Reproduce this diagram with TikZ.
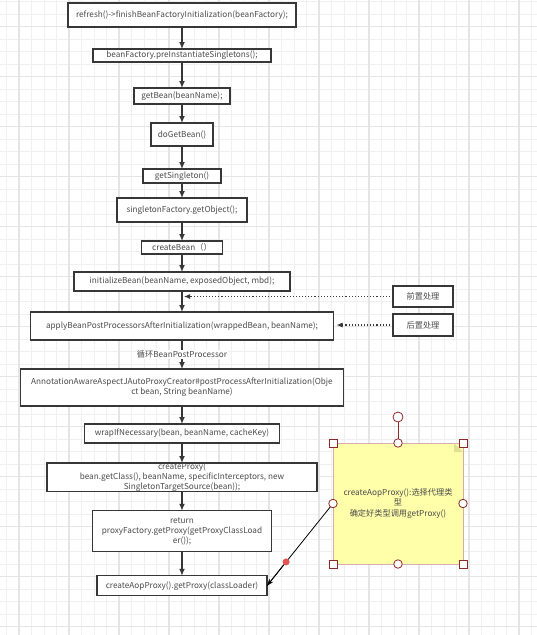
\documentclass[tikz,border=0pt]{standalone}
\usepackage{fontspec}
\setmainfont{Noto Sans CJK SC}
\usetikzlibrary{positioning, arrows.meta, calc}
\definecolor{LineGray}{RGB}{55,55,55}
\definecolor{TextGray}{RGB}{75,75,75}
\definecolor{GridMinor}{RGB}{240,240,240}
\definecolor{GridMajor}{RGB}{229,229,229}
\definecolor{NoteYellow}{RGB}{255,255,170}
\definecolor{NoteFold}{RGB}{225,225,150}
\definecolor{NoteBorder}{RGB}{214,172,172}
\definecolor{HandleRed}{RGB}{140,40,40}
\definecolor{DotRed}{RGB}{225,85,85}

\begin{document}
\begin{tikzpicture}[
    x=1pt, y=-1pt,
    call/.style={rectangle, draw=LineGray, line width=1.1pt, fill=white, inner sep=0pt, outer sep=0pt,
                 align=center, font=\fontsize{8.2}{10}\selectfont, text=TextGray},
    flow/.style={-{Latex[length=7pt,width=6pt]}, line width=1.6pt, color=LineGray},
    hook/.style={-{Latex[length=6pt,width=5pt]}, dotted, line width=1.1pt, color=LineGray},
    note/.style={rectangle, draw=NoteBorder, fill=NoteYellow, line width=0.9pt, inner sep=0pt, outer sep=0pt,
                 align=center, font=\fontsize{8.2}{10.5}\selectfont, text=TextGray},
    handlebox/.style={rectangle, draw=HandleRed, fill=white, line width=0.8pt, minimum size=8pt, inner sep=0pt},
    handledot/.style={circle, draw=HandleRed, fill=white, line width=0.8pt, minimum size=8.5pt, inner sep=0pt}
]
\useasboundingbox (0,0) rectangle (537,635);
\fill[white] (0,0) rectangle (537,635);

% Grid
\foreach \k in {0,...,42} \draw[GridMinor, line width=0.8pt] (6.5+12.5*\k,0) -- (6.5+12.5*\k,635);
\foreach \k in {0,...,50} \draw[GridMinor, line width=0.8pt] (0,1.5+12.5*\k) -- (537,1.5+12.5*\k);
\foreach \k in {0,...,10} \draw[GridMajor, line width=1.5pt] (19+50*\k,0) -- (19+50*\k,635);
\foreach \k in {0,...,12} \draw[GridMajor, line width=1.5pt] (0,26.5+50*\k) -- (537,26.5+50*\k);

% Call chain
\node[call, minimum width=228pt, minimum height=24pt] (refresh) at (182,15) {refresh()->finishBeanFactoryInitialization(beanFactory);};
\node[call, minimum width=178pt, minimum height=13pt, below=22pt of refresh] (preinst) {beanFactory.preInstantiateSingletons();};
\node[call, minimum width=96pt, minimum height=16pt, below=26pt of preinst] (getbean) {getBean(beanName);};
\node[call, minimum width=62pt, minimum height=23pt, below=19pt of getbean] (dogetbean) {doGetBean()};
\node[call, minimum width=78pt, minimum height=14pt, below=23pt of dogetbean] (singleton) {getSingleton()};
\node[call, minimum width=130pt, minimum height=24pt, below=15pt of singleton] (getobject) {singletonFactory.getObject();};
\node[call, minimum width=81pt, minimum height=13pt, below=19pt of getobject] (createbean) {createBean（）};
\node[call, minimum width=216pt, minimum height=19pt, below=18pt of createbean] (init) {initializeBean(beanName, exposedObject, mbd);};
\node[call, minimum width=303pt, minimum height=28pt, below=21pt of init] (apply) {applyBeanPostProcessorsAfterInitialization(wrappedBean, beanName);};
\node[call, minimum width=323pt, minimum height=37pt, below=29pt of apply] (creator) {AnnotationAwareAspectJAutoProxyCreator\#postProcessAfterInitialization(Obje\\ct bean, String beanName)};
\node[call, minimum width=195pt, minimum height=19pt, below=18pt of creator] (wrap) {wrapIfNecessary(bean, beanName, cacheKey)};
\node[call, minimum width=270pt, minimum height=28pt, below=20pt of wrap] (createproxy) {createProxy(\\bean.getClass(), beanName, specificInterceptors, new\\SingletonTargetSource(bean));};
\node[call, minimum width=179pt, minimum height=41pt, below=19pt of createproxy] (getproxy) {return\\proxyFactory.getProxy(getProxyClassLoad\\er());};
\node[call, minimum width=170pt, minimum height=20pt, below=24pt of getproxy] (aopproxy) {createAopProxy().getProxy(classLoader)};

% Pre / post processing
\node[call, minimum width=60pt, minimum height=21pt] (pre) at (423,296.5) {前置处理};
\node[call, minimum width=60pt, minimum height=22pt, below=7pt of pre] (post) {后置处理};

% Arrows
\draw[flow] (refresh) -- (preinst);
\draw[flow] (preinst) -- (getbean);
\draw[flow] (getbean) -- (dogetbean);
\draw[flow] (dogetbean) -- (singleton);
\draw[flow] (singleton) -- (getobject);
\draw[flow] (getobject) -- (createbean);
\draw[flow] (createbean) -- (init);
\draw[flow] (init) -- (apply);
\draw[flow] (apply) -- node[fill=white, inner sep=1pt, font=\fontsize{8.2}{10}\selectfont, text=TextGray] (loop) {循环BeanPostProcessor} (creator);
\draw[flow] (creator) -- (wrap);
\draw[flow] (wrap) -- (createproxy);
\draw[flow] (createproxy) -- (getproxy);
\draw[flow] (getproxy) -- (aopproxy);

\coordinate (preend) at (init.south |- pre.west);
\draw[hook] (pre.west) -- ([xshift=2pt]preend);
\draw[hook] (post.west) -- ([xshift=3pt]post.west -| apply.east);

% Note with selection handles
\node[note, minimum width=130pt, minimum height=121pt] (memo) at (398,503.5) {createAopProxy():选择代理类\\型\\确定好类型调用getProxy()};
\fill[NoteFold] (memo.north east) ++(-9,0) -- ++(9,9) -- ++(-9,0) -- cycle;
\draw[line width=0.8pt] (memo.west) -- node[pos=0.71, circle, fill=DotRed, inner sep=0pt, minimum size=7pt] (mark) {} (aopproxy.east);
\draw[-{Stealth[length=7pt,width=5pt]}, line width=0.8pt] (mark) -- (aopproxy.east);
\node[handledot, minimum size=10pt] (rotate) at (398,417) {};
\draw[HandleRed, line width=1pt] (rotate) -- (memo.north);
\foreach \a in {north west, north east, south west, south east}
  \node[handlebox] at (memo.\a) {};
\foreach \a in {north, south, west, east}
  \node[handledot] at (memo.\a) {};

\end{tikzpicture}
\end{document}
